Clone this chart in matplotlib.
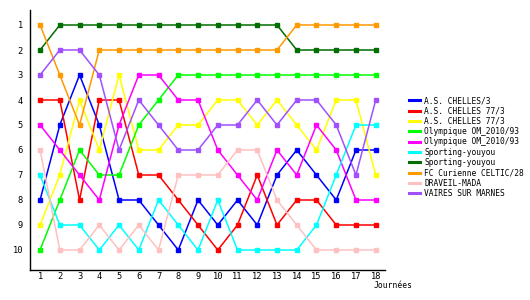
import matplotlib
matplotlib.use("Agg")
import matplotlib.pyplot as plt

journees = list(range(1, 19))

teams = ["A.S. CHELLES/3", "A.S. CHELLES 77/3", "A.S. CHELLES 77/3",
         "Olympique OM_2010/93", "Olympique OM_2010/93",
         "Sporting-youyou", "Sporting-youyou",
         "FC Curienne CELTIC/28", "DRAVEIL-MADA", "VAIRES SUR MARNES"]

chelles_3 = [8, 5, 3, 5, 8, 8, 9, 10, 8, 9, 8, 9, 7, 6, 7, 8, 6, 6]
chelles_77_a = [4, 4, 8, 4, 4, 7, 7, 8, 9, 10, 9, 7, 9, 8, 8, 9, 9, 9]
chelles_77_b = [9, 7, 4, 6, 3, 6, 6, 5, 5, 4, 4, 5, 4, 5, 6, 4, 4, 7]
om_a = [10, 8, 6, 7, 7, 5, 4, 3, 3, 3, 3, 3, 3, 3, 3, 3, 3, 3]
om_b = [5, 6, 7, 8, 5, 3, 3, 4, 4, 6, 7, 8, 6, 7, 5, 6, 8, 8]
youyou_a = [7, 9, 9, 10, 9, 10, 8, 9, 10, 8, 10, 10, 10, 10, 9, 7, 5, 5]
youyou_b = [2, 1, 1, 1, 1, 1, 1, 1, 1, 1, 1, 1, 1, 2, 2, 2, 2, 2]
curienne = [1, 3, 5, 2, 2, 2, 2, 2, 2, 2, 2, 2, 2, 1, 1, 1, 1, 1]
draveil = [6, 10, 10, 9, 10, 9, 10, 7, 7, 7, 6, 6, 8, 9, 10, 10, 10, 10]
vaires = [3, 2, 2, 3, 6, 4, 5, 6, 6, 5, 5, 4, 5, 4, 4, 5, 7, 4]

series = [chelles_3, chelles_77_a, chelles_77_b, om_a, om_b,
          youyou_a, youyou_b, curienne, draveil, vaires]
colors = ["#0000ff", "#ff0000", "#ffff00", "#00ff00", "#ff00ff",
          "#00ffff", "#006e00", "#ff9900", "#ffc0c0", "#a050ff"]

plt.rcParams["font.family"] = ["DejaVu Sans Mono"]

fig = plt.figure(figsize=(5.3, 3.0), dpi=100)
ax = fig.add_axes([30 / 530, 30 / 300, 355 / 530, 260 / 300])

for name, vals, c in zip(teams, series, colors):
    ax.plot(journees, vals, color=c, lw=1.1, marker="s", ms=2.2,
            mec=c, mfc=c, label=name)

ax.set_xlim(0.49, 18.47)
ax.set_ylim(10.8, 0.4)
ax.set_xticks(journees)
ax.set_yticks(range(1, 11))
ax.tick_params(length=0, labelsize=6.3)
ax.tick_params(axis="x", pad=1.5)
ax.tick_params(axis="y", pad=5)
for s in ["top", "right"]:
    ax.spines[s].set_visible(False)
for s in ["left", "bottom"]:
    ax.spines[s].set_linewidth(1.0)

fig.text(374 / 530, 1 - 285 / 300, "Journées", fontsize=5.8,
         ha="left", va="center")

ax.legend(loc="upper left", bbox_to_anchor=(409 / 530, 1 - 96 / 300),
          bbox_transform=fig.transFigure, frameon=False, fontsize=5.7,
          handlelength=1.4, handletextpad=0.5, labelspacing=0.17,
          borderpad=0, borderaxespad=0)
for line in ax.get_legend().get_lines():
    line.set_marker("")
    line.set_linewidth(2.2)

fig.savefig("out.png", dpi=100)
